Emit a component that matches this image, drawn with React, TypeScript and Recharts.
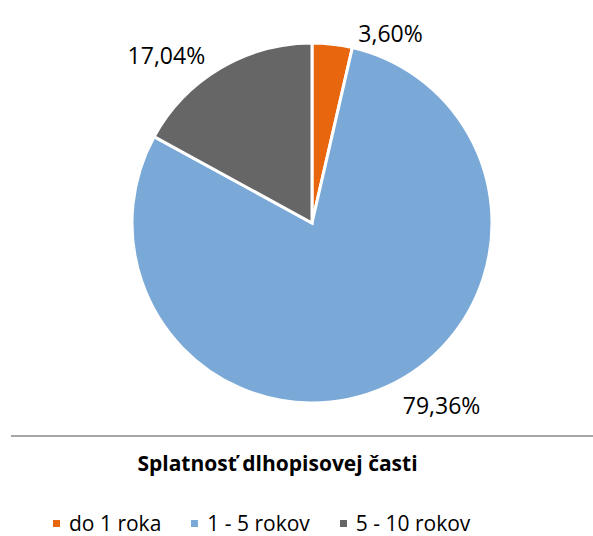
import React from 'react';
import { PieChart, Pie, Cell } from 'recharts';

const categories = ['do 1 roka', '1 - 5 rokov', '5 - 10 rokov'];
const shares = [3.6, 79.36, 17.04];
const colors = ['#E8660E', '#7BA9D7', '#666666'];

// label nudge from the outer edge point, per slice
const labelNudge = [
  { dx: 26, dy: -11, anchor: 'start' },
  { dx: 17, dy: 18, anchor: 'start' },
  { dx: -15, dy: -13, anchor: 'end' },
];

const data = categories.map((name, i) => ({ name, value: shares[i] }));

const FONT = '"Open Sans", Calibri, sans-serif';
const RADIAN = Math.PI / 180;

const renderLabel = (props: any) => {
  const { cx, cy, midAngle, outerRadius, index, value } = props;
  const x = cx + outerRadius * Math.cos(-midAngle * RADIAN);
  const y = cy + outerRadius * Math.sin(-midAngle * RADIAN);
  const n = labelNudge[index];
  return (
    <text
      x={x + n.dx}
      y={y + n.dy}
      textAnchor={n.anchor}
      dominantBaseline="central"
      fill="#000"
      fontSize={23}
      fontFamily={FONT}
    >
      {value.toFixed(2).replace('.', ',')}%
    </text>
  );
};

export default function App() {
  return (
    <div style={{ position: 'absolute', left: 0, top: 0, width: 593, height: 536, background: '#fff' }}>
      <PieChart width={593} height={536} margin={{ top: 0, right: 0, bottom: 0, left: 0 }}>
        <Pie
          data={data}
          dataKey="value"
          nameKey="name"
          cx={312}
          cy={223}
          outerRadius={180}
          startAngle={90}
          endAngle={-270}
          stroke="#fff"
          strokeWidth={3}
          label={renderLabel}
          labelLine={false}
          isAnimationActive={false}
        >
          {data.map((d, i) => (
            <Cell key={d.name} fill={colors[i]} />
          ))}
        </Pie>
      </PieChart>
      <div style={{ position: 'absolute', left: 11, right: 0, top: 435, height: 2, background: '#A6A6A6' }} />
      <div
        style={{
          position: 'absolute',
          left: 0,
          width: 555,
          top: 449,
          textAlign: 'center',
          fontFamily: FONT,
          fontWeight: 'bold',
          fontSize: 21,
          lineHeight: '28px',
          color: '#000',
        }}
      >
        Splatnosť dlhopisovej časti
      </div>
      <div
        style={{
          position: 'absolute',
          left: 53,
          top: 512,
          display: 'flex',
          fontFamily: FONT,
          fontSize: 21,
          lineHeight: '22px',
          color: '#000',
          whiteSpace: 'nowrap',
        }}
      >
        {categories.map((c, i) => (
          <div key={c} style={{ display: 'flex', alignItems: 'center', marginRight: 30 }}>
            <span style={{ width: 7, height: 7, background: colors[i], display: 'inline-block', marginRight: 9 }} />
            <span>{c}</span>
          </div>
        ))}
      </div>
    </div>
  );
}
